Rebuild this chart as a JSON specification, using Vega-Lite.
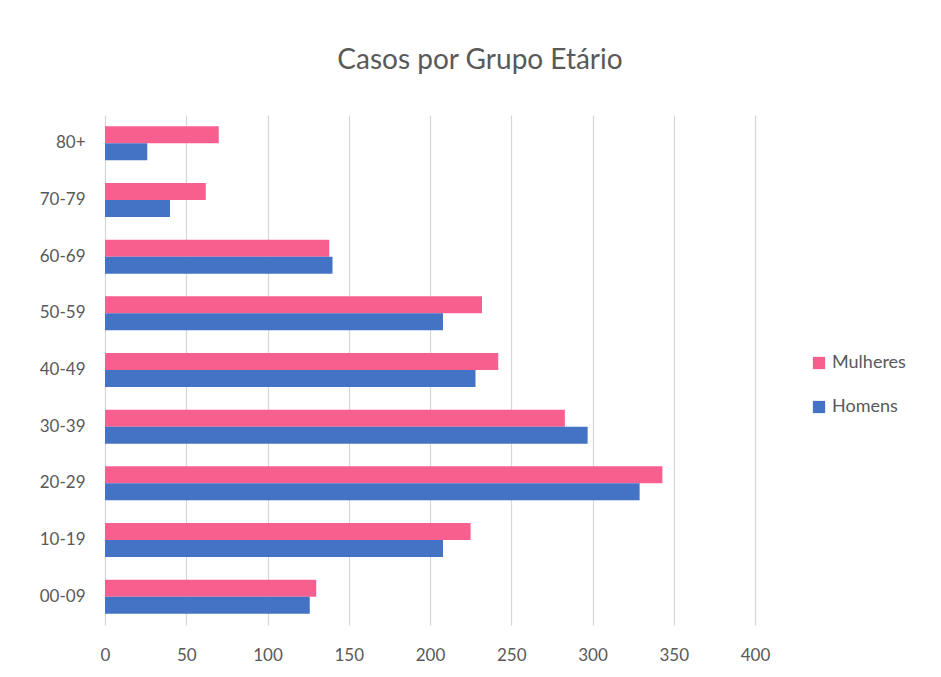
{
  "$schema": "https://vega.github.io/schema/vega-lite/v6.json",
  "width": 650,
  "height": 510,
  "autosize": {"type": "none"},
  "padding": {"left": 105, "top": 115, "right": 186, "bottom": 52},
  "background": "white",
  "title": {
    "text": "Casos por Grupo Etário",
    "anchor": "middle",
    "dx": 50,
    "offset": 40,
    "fontSize": 28,
    "font": "Lato",
    "fontWeight": "normal",
    "color": "#595959"
  },
  "data": {
    "values": [
      {"grupo": "80+", "sexo": "Mulheres", "casos": 70},
      {"grupo": "80+", "sexo": "Homens", "casos": 26},
      {"grupo": "70-79", "sexo": "Mulheres", "casos": 62},
      {"grupo": "70-79", "sexo": "Homens", "casos": 40},
      {"grupo": "60-69", "sexo": "Mulheres", "casos": 138},
      {"grupo": "60-69", "sexo": "Homens", "casos": 140},
      {"grupo": "50-59", "sexo": "Mulheres", "casos": 232},
      {"grupo": "50-59", "sexo": "Homens", "casos": 208},
      {"grupo": "40-49", "sexo": "Mulheres", "casos": 242},
      {"grupo": "40-49", "sexo": "Homens", "casos": 228},
      {"grupo": "30-39", "sexo": "Mulheres", "casos": 283},
      {"grupo": "30-39", "sexo": "Homens", "casos": 297},
      {"grupo": "20-29", "sexo": "Mulheres", "casos": 343},
      {"grupo": "20-29", "sexo": "Homens", "casos": 329},
      {"grupo": "10-19", "sexo": "Mulheres", "casos": 225},
      {"grupo": "10-19", "sexo": "Homens", "casos": 208},
      {"grupo": "00-09", "sexo": "Mulheres", "casos": 130},
      {"grupo": "00-09", "sexo": "Homens", "casos": 126}
    ]
  },
  "mark": {"type": "bar"},
  "encoding": {
    "y": {
      "field": "grupo",
      "type": "nominal",
      "sort": ["80+", "70-79", "60-69", "50-59", "40-49", "30-39", "20-29", "10-19", "00-09"],
      "scale": {"paddingInner": 0.4, "paddingOuter": 0.2},
      "axis": {
        "title": null,
        "ticks": false,
        "domain": false,
        "grid": false,
        "labelPadding": 20,
        "labelFontSize": 17,
        "labelFont": "Lato",
        "labelColor": "#595959"
      }
    },
    "yOffset": {
      "field": "sexo",
      "type": "nominal",
      "sort": ["Mulheres", "Homens"],
      "scale": {"paddingInner": 0, "paddingOuter": 0}
    },
    "x": {
      "field": "casos",
      "type": "quantitative",
      "scale": {"domain": [0, 400], "nice": false},
      "axis": {
        "title": null,
        "values": [0, 50, 100, 150, 200, 250, 300, 350, 400],
        "labelOverlap": false,
        "labelFlush": false,
        "ticks": false,
        "domain": false,
        "grid": true,
        "gridColor": "#d6d6d6",
        "gridWidth": 1.2,
        "labelPadding": 22,
        "labelFontSize": 17,
        "labelFont": "Lato",
        "labelColor": "#595959"
      }
    },
    "color": {
      "field": "sexo",
      "type": "nominal",
      "sort": ["Mulheres", "Homens"],
      "scale": {"domain": ["Mulheres", "Homens"], "range": ["#F75F8F", "#4472C4"]},
      "legend": {
        "title": null,
        "orient": "none",
        "legendX": 705,
        "legendY": 239,
        "symbolType": "square",
        "symbolSize": 150,
        "symbolOpacity": 1,
        "labelFontSize": 18,
        "labelFont": "Lato",
        "labelColor": "#595959",
        "rowPadding": 26,
        "labelOffset": 4
      }
    }
  },
  "config": {
    "view": {"stroke": null}
  }
}
